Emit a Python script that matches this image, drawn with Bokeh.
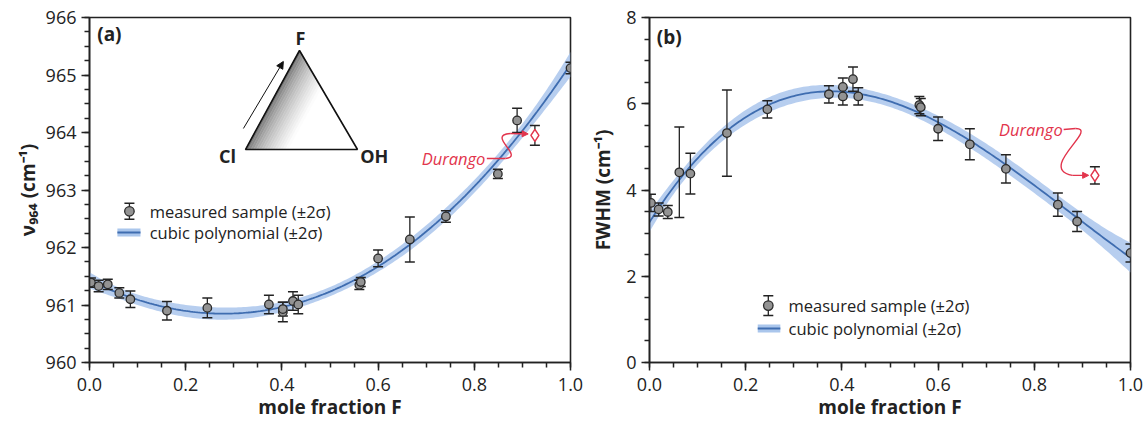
import numpy as np
from bokeh.plotting import figure
from bokeh.layouts import row
from bokeh.models import FixedTicker, PrintfTickFormatter, Range1d, Arrow, NormalHead
from bokeh.core.properties import value
from bokeh.embed import file_html
from bokeh.resources import INLINE

FONT = "Open Sans"

# ---------------- data ----------------
mole_fraction_F = [0.003, 0.019, 0.038, 0.062, 0.085, 0.161, 0.245, 0.373, 0.402, 0.402,
                   0.423, 0.434, 0.561, 0.564, 0.600, 0.666, 0.741, 0.849, 0.889, 1.000]
nu964 = [961.39, 961.33, 961.36, 961.21, 961.10, 960.90, 960.95, 961.01, 960.88, 960.93,
         961.07, 961.01, 961.35, 961.40, 961.81, 962.14, 962.54, 963.28, 964.21, 965.12]
nu964_err = [0.08, 0.10, 0.09, 0.09, 0.145, 0.16, 0.17, 0.16, 0.17, 0.12,
             0.16, 0.16, 0.08, 0.08, 0.145, 0.39, 0.10, 0.08, 0.21, 0.10]
fwhm = [3.70, 3.55, 3.49, 4.41, 4.38, 5.32, 5.87, 6.22, 6.39, 6.17,
        6.57, 6.17, 5.97, 5.92, 5.42, 5.06, 4.49, 3.66, 3.27, 2.54]
fwhm_err = [0.20, 0.15, 0.15, 1.05, 0.47, 1.00, 0.20, 0.20, 0.21, 0.20,
            0.28, 0.20, 0.20, 0.20, 0.27, 0.36, 0.33, 0.27, 0.23, 0.21]

durango_F = [0.926]
durango_nu964 = [963.95]
durango_nu964_err = [0.17]
durango_fwhm = [4.34]
durango_fwhm_err = [0.20]

x_ticks = [0.0, 0.2, 0.4, 0.6, 0.8, 1.0]
x_minor = [i * 0.05 for i in range(21)]
nu_ticks = [960, 961, 962, 963, 964, 965, 966]
nu_minor = [960 + i * 0.25 for i in range(25)]
fwhm_ticks = [0, 2, 4, 6, 8]
fwhm_minor = [i * 0.5 for i in range(17)]

legend_labels = ["measured sample (\u00b12\u03c3)", "cubic polynomial (\u00b12\u03c3)"]

# ---------------- styles ----------------
LINE_C = "#3f6db0"
BAND_C = "#aac6ec"
MK_FILL = "#939393"
MK_LINE = "#2a2a2a"
ERR_C = "#222222"
RED = "#e2344c"
AX_C = "#222222"


def cubic_fit(x, y):
    # ordinary least-squares cubic with its +-2 sigma confidence band
    x = np.asarray(x, float)
    y = np.asarray(y, float)
    coef, cov = np.polyfit(x, y, 3, cov=True)
    xs = np.linspace(0.0, 1.0, 201)
    V = np.vander(xs, 4)
    yf = V @ coef
    sd = np.sqrt(np.einsum("ij,jk,ik->i", V, cov, V))
    return xs, yf, yf - 2 * sd, yf + 2 * sd


def make_fig(width, left, right, yr, yticks, yminor, ylabel, ylabel_standoff):
    p = figure(width=width, height=422, output_backend="svg", toolbar_location=None,
               x_range=Range1d(0, 1), y_range=Range1d(*yr),
               min_border_left=left, min_border_right=right,
               min_border_top=17, min_border_bottom=60)
    p.grid.visible = False
    p.outline_line_color = AX_C
    p.outline_line_width = 1.6
    p.background_fill_color = "white"
    p.border_fill_color = "white"
    for ax in (p.xaxis[0], p.yaxis[0]):
        ax.axis_line_color = AX_C
        ax.axis_line_width = 1.6
        ax.major_tick_line_color = AX_C
        ax.minor_tick_line_color = AX_C
        ax.major_tick_line_width = 1.5
        ax.minor_tick_line_width = 1.5
        ax.major_tick_in = 0
        ax.major_tick_out = 8
        ax.minor_tick_in = 0
        ax.minor_tick_out = 5
        ax.major_label_text_font = FONT
        ax.major_label_text_font_size = "18px"
        ax.major_label_text_color = AX_C
        ax.axis_label_text_font = FONT
        ax.axis_label_text_font_size = "19px"
        ax.axis_label_text_font_style = "bold"
        ax.axis_label_text_color = AX_C
    p.xaxis.ticker = FixedTicker(ticks=x_ticks, minor_ticks=x_minor)
    p.xaxis.formatter = PrintfTickFormatter(format="%.1f")
    p.xaxis.axis_label = "mole fraction F"
    p.xaxis.major_label_standoff = 7
    p.xaxis.axis_label_standoff = 0
    p.yaxis.ticker = FixedTicker(ticks=yticks, minor_ticks=yminor)
    p.yaxis.formatter = PrintfTickFormatter(format="%d")
    p.yaxis.axis_label = ylabel
    p.yaxis.major_label_standoff = 5
    p.yaxis.axis_label_standoff = ylabel_standoff
    return p


def draw_data(p, x, y, err, cap_size=10):
    xs, yf, lo, hi = cubic_fit(x, y)
    p.varea(x=xs, y1=lo, y2=hi, fill_color=BAND_C, fill_alpha=0.85)
    p.line(xs, yf, line_color=LINE_C, line_width=1.8)
    lo_e = [a - b for a, b in zip(y, err)]
    hi_e = [a + b for a, b in zip(y, err)]
    p.segment(x0=x, y0=lo_e, x1=x, y1=hi_e, line_color=ERR_C, line_width=1.3)
    p.scatter(x=x + x, y=lo_e + hi_e, marker="dash", size=cap_size, line_color=ERR_C, line_width=1.5)
    p.scatter(x=x, y=y, size=8.5, fill_color=MK_FILL, line_color=MK_LINE, line_width=1.3)


def draw_durango(p, x, y, err):
    lo_e = [a - b for a, b in zip(y, err)]
    hi_e = [a + b for a, b in zip(y, err)]
    p.segment(x0=x, y0=lo_e, x1=x, y1=hi_e, line_color=ERR_C, line_width=1.3)
    p.scatter(x=x + x, y=lo_e + hi_e, marker="dash", size=10, line_color=ERR_C, line_width=1.5)
    p.scatter(x=x, y=y, marker="diamond", size=12, fill_color="white", line_color=RED, line_width=1.5)


def txt(p, x, y, s, size, bold=False, italic=False, color=AX_C, align="left"):
    style = "bold" if bold else ("italic" if italic else "normal")
    p.text(x=[x], y=[y], text=[s], text_font=value(FONT), text_font_size=size,
           text_font_style=style, text_color=color, text_align=align, text_baseline="middle")


def legend(p, xm, ym, em, yl, xl0, xl1, xt):
    p.line([xl0, xl1], [yl, yl], line_color=BAND_C, line_width=8)
    p.line([xl0, xl1], [yl, yl], line_color=LINE_C, line_width=2)
    p.segment(x0=[xm], y0=[ym - em], x1=[xm], y1=[ym + em], line_color=ERR_C, line_width=1.3)
    p.scatter(x=[xm, xm], y=[ym - em, ym + em], marker="dash", size=10, line_color=ERR_C, line_width=1.5)
    p.scatter(x=[xm], y=[ym], size=9.5, fill_color=MK_FILL, line_color=MK_LINE, line_width=1.3)
    txt(p, xt, ym, legend_labels[0], "16.5px")
    txt(p, xt, yl, legend_labels[1], "16.5px")


# ---------------- panel (a) ----------------
pa = make_fig(585, 89, 15, (960, 966), nu_ticks, nu_minor, "\u03bd\u2089\u2086\u2084 (cm\u207b\u00b9)", 2)
draw_data(pa, mole_fraction_F, nu964, nu964_err)

# inset ternary triangle
tri_F = (0.4366, 965.426)
tri_Cl = (0.3243, 963.704)
tri_OH = (0.5572, 963.704)
nstrip = 16
for k in range(nstrip):
    t0 = 0.38 * k / nstrip
    t1 = 0.38 * (k + 1) / nstrip
    pts = [
        (tri_Cl[0] + t0 * (tri_OH[0] - tri_Cl[0]), tri_Cl[1]),
        (tri_F[0] + t0 * (tri_OH[0] - tri_F[0]), tri_F[1] + t0 * (tri_OH[1] - tri_F[1])),
        (tri_F[0] + t1 * (tri_OH[0] - tri_F[0]), tri_F[1] + t1 * (tri_OH[1] - tri_F[1])),
        (tri_Cl[0] + t1 * (tri_OH[0] - tri_Cl[0]), tri_Cl[1]),
    ]
    g = int(95 + (255 - 95) * ((k + 0.5) / nstrip) ** 0.55)
    col = "#%02x%02x%02x" % (g, g, g)
    pa.patch([q[0] for q in pts], [q[1] for q in pts], fill_color=col, line_color=col, line_width=0.5)
pa.patch([tri_Cl[0], tri_F[0], tri_OH[0]], [tri_Cl[1], tri_F[1], tri_OH[1]],
         fill_color=None, line_color="#111111", line_width=1.6)
pa.add_layout(Arrow(end=NormalHead(size=7, fill_color="#111111", line_color="#111111"),
                    x_start=0.320, y_start=964.07, x_end=0.403, y_end=965.235,
                    line_color="#111111", line_width=1))
txt(pa, 0.4387, 965.64, "F", "18px", bold=True, align="center")
txt(pa, 0.287, 963.60, "Cl", "18px", bold=True, align="center")
txt(pa, 0.592, 963.60, "OH", "18px", bold=True, align="center")
txt(pa, 0.016, 965.72, "(a)", "19px", bold=True)

# Durango annotation (a)
draw_durango(pa, durango_F, durango_nu964, durango_nu964_err)
txt(pa, 0.823, 963.55, "Durango", "16.5px", italic=True, color=RED, align="right")
pa.line([0.826, 0.865], [963.548, 963.548], line_color=RED, line_width=1.4)
pa.bezier(x0=[0.865], y0=[963.548], x1=[0.876], y1=[963.983],
          cx0=[0.906], cy0=[963.583], cx1=[0.823], cy1=[963.965],
          line_color=RED, line_width=1.4)
pa.add_layout(Arrow(end=NormalHead(size=6, fill_color=RED, line_color=RED),
                    x_start=0.876, y_start=963.983, x_end=0.912, y_end=963.975,
                    line_color=RED, line_width=1.4))

legend(pa, 0.083, 962.63, 0.14, 962.26, 0.058, 0.106, 0.125)

# ---------------- panel (b) ----------------
pb = make_fig(560, 64, 15, (0, 8), fwhm_ticks, fwhm_minor, "FWHM (cm\u207b\u00b9)", 7)
draw_data(pb, mole_fraction_F, fwhm, fwhm_err)
txt(pb, 0.015, 7.54, "(b)", "19px", bold=True)

draw_durango(pb, durango_F, durango_fwhm, durango_fwhm_err)
txt(pb, 0.859, 5.40, "Durango", "16.5px", italic=True, color=RED, align="right")
pb.line([0.861, 0.886], [5.403, 5.426], line_color=RED, line_width=1.4)
pb.bezier(x0=[0.886], y0=[5.426], x1=[0.879], y1=[4.34],
          cx0=[0.935], cy0=[5.426], cx1=[0.805], cy1=[4.50],
          line_color=RED, line_width=1.4)
pb.add_layout(Arrow(end=NormalHead(size=6, fill_color=RED, line_color=RED),
                    x_start=0.879, y_start=4.34, x_end=0.913, y_end=4.34,
                    line_color=RED, line_width=1.4))

legend(pb, 0.247, 1.32, 0.23, 0.79, 0.225, 0.272, 0.289)

layout = row(pa, pb)
open("out.html", "w").write(file_html(layout, INLINE))
